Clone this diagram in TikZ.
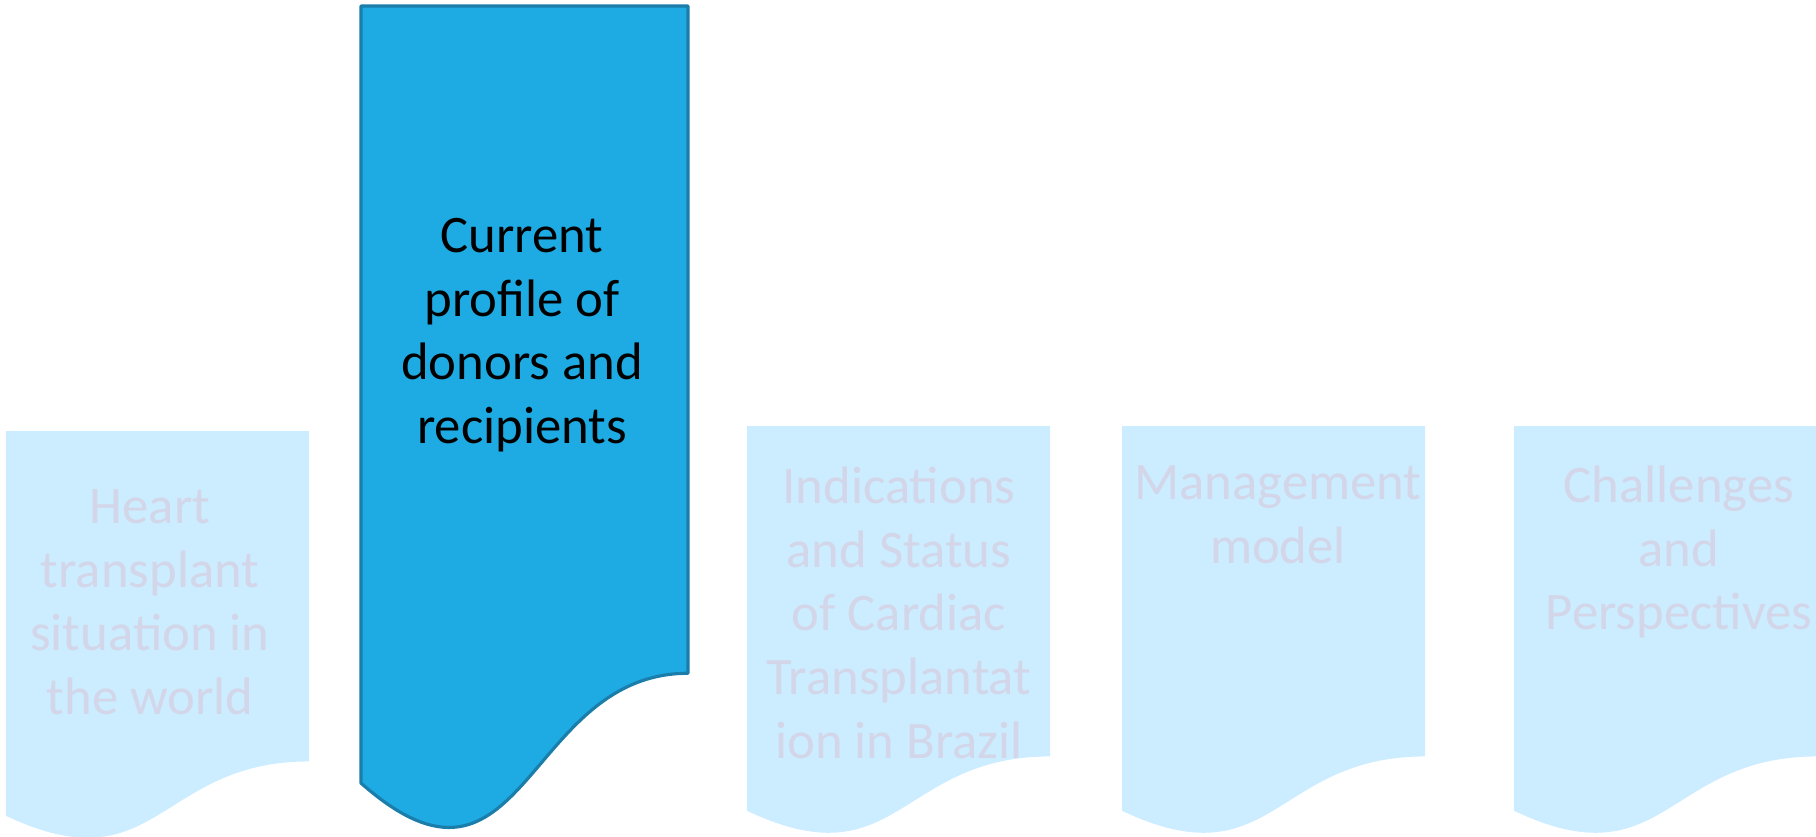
\documentclass[tikz,border=0pt]{standalone}
\usepackage{fontspec}
\setmainfont{Carlito}
\usepackage{tikz}

\definecolor{palefill}{HTML}{CCECFF}
\definecolor{paletext}{HTML}{D3D6E8}
\definecolor{activefill}{HTML}{1EABE3}
\definecolor{activeline}{HTML}{1A7DAA}

% sheet with wavy bottom: #1 style, #2 left, #3 top, #4 width, #5 height
\newcommand{\docsheet}[5]{%
    \path[#1] (#2,#3) -- ({#2+#4},#3) -- ({#2+#4},{#3-0.802*#5})
        .. controls ({#2+0.5*#4},{#3-0.802*#5}) and ({#2+0.5*#4},{#3-1.1075*#5})
        .. (#2,{#3-0.934*#5}) -- cycle;}

\begin{document}
\begin{tikzpicture}[
    pagefaded/.style={fill=palefill, draw=none},
    pageactive/.style={fill=activefill, draw=activeline, line width=0.9pt,
    line join=round},
    fadedlabel/.style={text=paletext, align=center, inner sep=0pt,
    anchor=north, font=\fontsize{15}{18.1}\selectfont},
    activelabel/.style={fadedlabel, text=black},
]

\useasboundingbox (0,0) rectangle (18.16,8.36);

% SHEETS
\docsheet{pagefaded}{0.06}{4.05}{3.03}{4.12}
\docsheet{pageactive}{3.61}{8.30}{3.27}{8.32}
\docsheet{pagefaded}{7.47}{4.10}{3.03}{4.12}
\docsheet{pagefaded}{11.22}{4.10}{3.03}{4.12}
\docsheet{pagefaded}{15.14}{4.10}{3.03}{4.12}

% LABELS
\node[fadedlabel] at (1.50, 3.575) (world)
    {\strut Heart\\transplant\\situation in\\the world};
\node[activelabel] at (5.22, 6.285) (profile)
    {\strut Current\\profile of\\donors and\\recipients};
\node[fadedlabel] at (8.99, 3.775) (brazil)
    {\strut Indications\\and Status\\of Cardiac\\Transplantat\\ion in Brazil};
\node[fadedlabel] at (12.78, 3.815) (model)
    {\strut Management\\model};
\node[fadedlabel] at (16.79, 3.785) (future)
    {\strut Challenges\\and\\Perspectives};

\end{tikzpicture}
\end{document}
